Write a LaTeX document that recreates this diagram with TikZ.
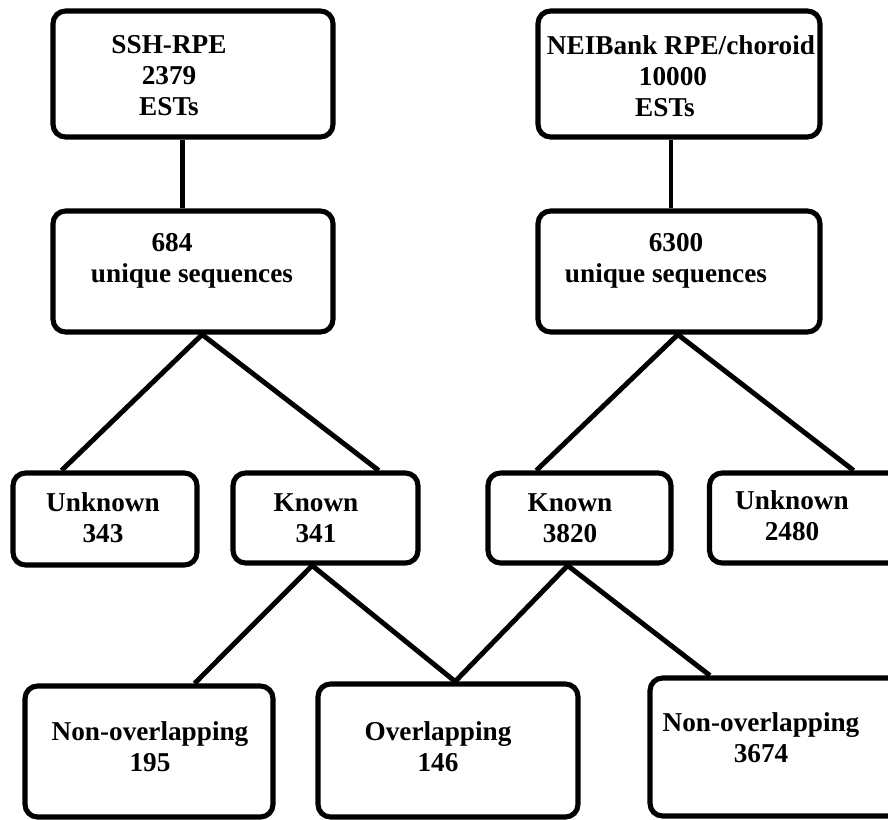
\documentclass[tikz,border=0pt]{standalone}
\usepackage{fontspec}
\setmainfont{Liberation Serif}
\usetikzlibrary{calc}
\tikzset{
    box/.style={draw, line width=2.9pt, rounded corners=0.25cm, fill=white}, % the rounded boxes
    txt/.style={font=\fontsize{15.5}{17.6}\selectfont\bfseries, align=center, inner sep=0pt}, % text in the boxes
    link/.style={line width=2.8pt}, % the connecting lines
}

\begin{document}
\begin{tikzpicture}[x=0.02cm, y=-0.02cm]
  \useasboundingbox (0,0) rectangle (888,819);
  \clip (0,0) rectangle (888,819);

  % top row: the two EST sets
  \node[box, minimum width=5.6cm,  minimum height=2.52cm] (ssh) at (193,74)  {};
  \node[box, minimum width=5.64cm, minimum height=2.52cm] (nei) at (679,74)  {};
  \node[txt] (ssh_t) at (169,76) {SSH-RPE\\2379\\ESTs};
  \node[txt] (nei_t) at (673,76) {\hspace*{0.32cm}NEIBank RPE/choroid\\10000\\ESTs\hspace*{0.32cm}};

  % unique sequences
  \node[box, minimum width=5.6cm,  minimum height=2.42cm] (u_1) at (193,271.5) {};
  \node[box, minimum width=5.64cm, minimum height=2.42cm] (u_2) at (679,271.5) {};
  \node[txt] (u_1t) at (192,261) {684\hspace*{0.8cm}\\unique sequences};
  \node[txt] (u_2t) at (666,261) {\hspace*{0.4cm}6300\\unique sequences};

  % known / unknown
  \node[box, minimum width=3.68cm, minimum height=1.84cm] (unk_1) at (105,519)   {};
  \node[box, minimum width=3.7cm,  minimum height=1.8cm]  (kn_1)  at (325.5,518) {};
  \node[box, minimum width=3.66cm, minimum height=1.8cm]  (kn_2)  at (579.5,518) {};
  \node[box, minimum width=3.9cm,  minimum height=1.8cm]  (unk_2) at (807,518)   {};
  \node[txt] at (103,518) {Unknown\\343};
  \node[txt] at (316,518) {Known\\341};
  \node[txt] at (570,518) {Known\\3820};
  \node[txt] at (792,516) {Unknown\\2480};

  % overlapping or not
  \node[box, minimum width=4.96cm, minimum height=2.62cm] (non_1) at (149,751.5) {};
  \node[box, minimum width=5.2cm,  minimum height=2.66cm] (ov)    at (448,750.5) {};
  \node[box, minimum width=5.1cm,  minimum height=2.76cm] (non_2) at (777.5,747) {};
  \node[txt] at (150,747) {Non-overlapping\\195};
  \node[txt] at (438,747) {Overlapping\\146};
  \node[txt] at (761,738) {Non-overlapping\\3674};

  \draw[link] ($(ssh.south west)!0.464!(ssh.south east)$) -- ($(u_1.north west)!0.464!(u_1.north east)$);
  \draw[link] ($(nei.south west)!0.472!(nei.south east)$) -- ($(u_2.north west)!0.472!(u_2.north east)$);
  \draw[link] ($(unk_1.north west)!0.27!(unk_1.north east)$)
           -- ($(u_1.south west)!0.532!(u_1.south east)$)
           -- ($(kn_1.north west)!0.78!(kn_1.north east)$);
  \draw[link] ($(kn_2.north west)!0.27!(kn_2.north east)$)
           -- ($(u_2.south west)!0.496!(u_2.south east)$)
           -- ($(unk_2.north west)!0.733!(unk_2.north east)$);
  \draw[link] ($(non_1.north west)!0.68!(non_1.north east)$)
           -- ($(kn_1.south west)!0.43!(kn_1.south east)$)
           -- ($(ov.north west)!0.527!(ov.north east)$)
           -- ($(kn_2.south west)!0.437!(kn_2.south east)$)
           -- ($(non_2.north west)!0.24!(non_2.north east)$);
\end{tikzpicture}
\end{document}
